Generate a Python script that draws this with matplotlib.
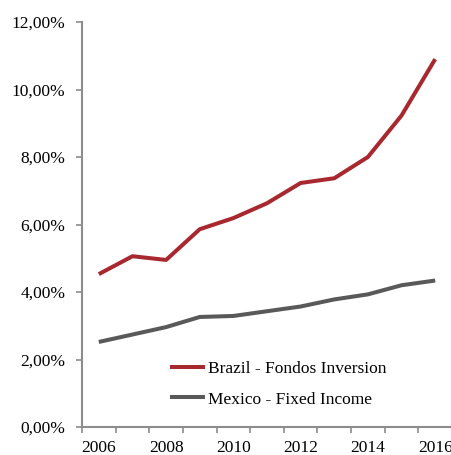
import numpy as np
import matplotlib.pyplot as plt
from matplotlib.ticker import FixedLocator, FuncFormatter

# Yearly rates for both funds (in %)
years = [2006, 2007, 2008, 2009, 2010, 2011, 2012, 2013, 2014, 2015, 2016]
brazil = [4.53, 5.06, 4.95, 5.86, 6.19, 6.63, 7.23, 7.37, 8.00, 9.23, 10.90]
mexico = [2.52, 2.74, 2.96, 3.26, 3.29, 3.43, 3.57, 3.78, 3.93, 4.20, 4.34]
series_names = ['Brazil - Fondos Inversion', 'Mexico - Fixed Income']
series_colors = ['#A8282F', '#595959']

plt.rcParams['font.family'] = ['Liberation Serif', 'DejaVu Serif']

fig = plt.figure(figsize=(4.52, 4.55), dpi=100)
ax = fig.add_axes([82 / 452, 1 - 427 / 455, 370 / 452, 405 / 455])

x = np.arange(len(years))
ax.plot(x, brazil, color=series_colors[0], lw=2.9, solid_capstyle='butt', label=series_names[0])
ax.plot(x, mexico, color=series_colors[1], lw=2.9, solid_capstyle='butt', label=series_names[1])

ax.set_xlim(-0.5, len(years) - 0.5)
ax.set_ylim(0, 12)

# category axis: ticks between years, labels on every other year
ax.xaxis.set_major_locator(FixedLocator(np.arange(-0.5, len(years), 1.0)))
ax.xaxis.set_major_formatter(FuncFormatter(lambda v, p: ''))
ax.xaxis.set_minor_locator(FixedLocator(x[::2]))
ax.xaxis.set_minor_formatter(FuncFormatter(lambda v, p: str(years[int(round(v))])))
ax.tick_params(axis='x', which='major', length=4, width=1.2, color='#8C8C8C', direction='out')
ax.tick_params(axis='x', which='minor', length=0, labelsize=12.5, pad=9)

ax.set_yticks(np.arange(0, 12.1, 2))
ax.yaxis.set_major_formatter(FuncFormatter(lambda v, p: f'{v:.2f}'.replace('.', ',') + '%'))
ax.tick_params(axis='y', length=4, width=1.2, color='#8C8C8C', direction='out', labelsize=12.5, pad=8)

for side in ['top', 'right']:
    ax.spines[side].set_visible(False)
for side in ['left', 'bottom']:
    ax.spines[side].set_color('#8C8C8C')
    ax.spines[side].set_linewidth(1.5)

fig.legend(loc='center left', bbox_to_anchor=(170 / 452, 1 - 384 / 455), frameon=False,
           fontsize=12.5, handlelength=2.0, handletextpad=0.2, labelspacing=0.85,
           borderpad=0, borderaxespad=0)

fig.savefig('out.png', dpi=100)
